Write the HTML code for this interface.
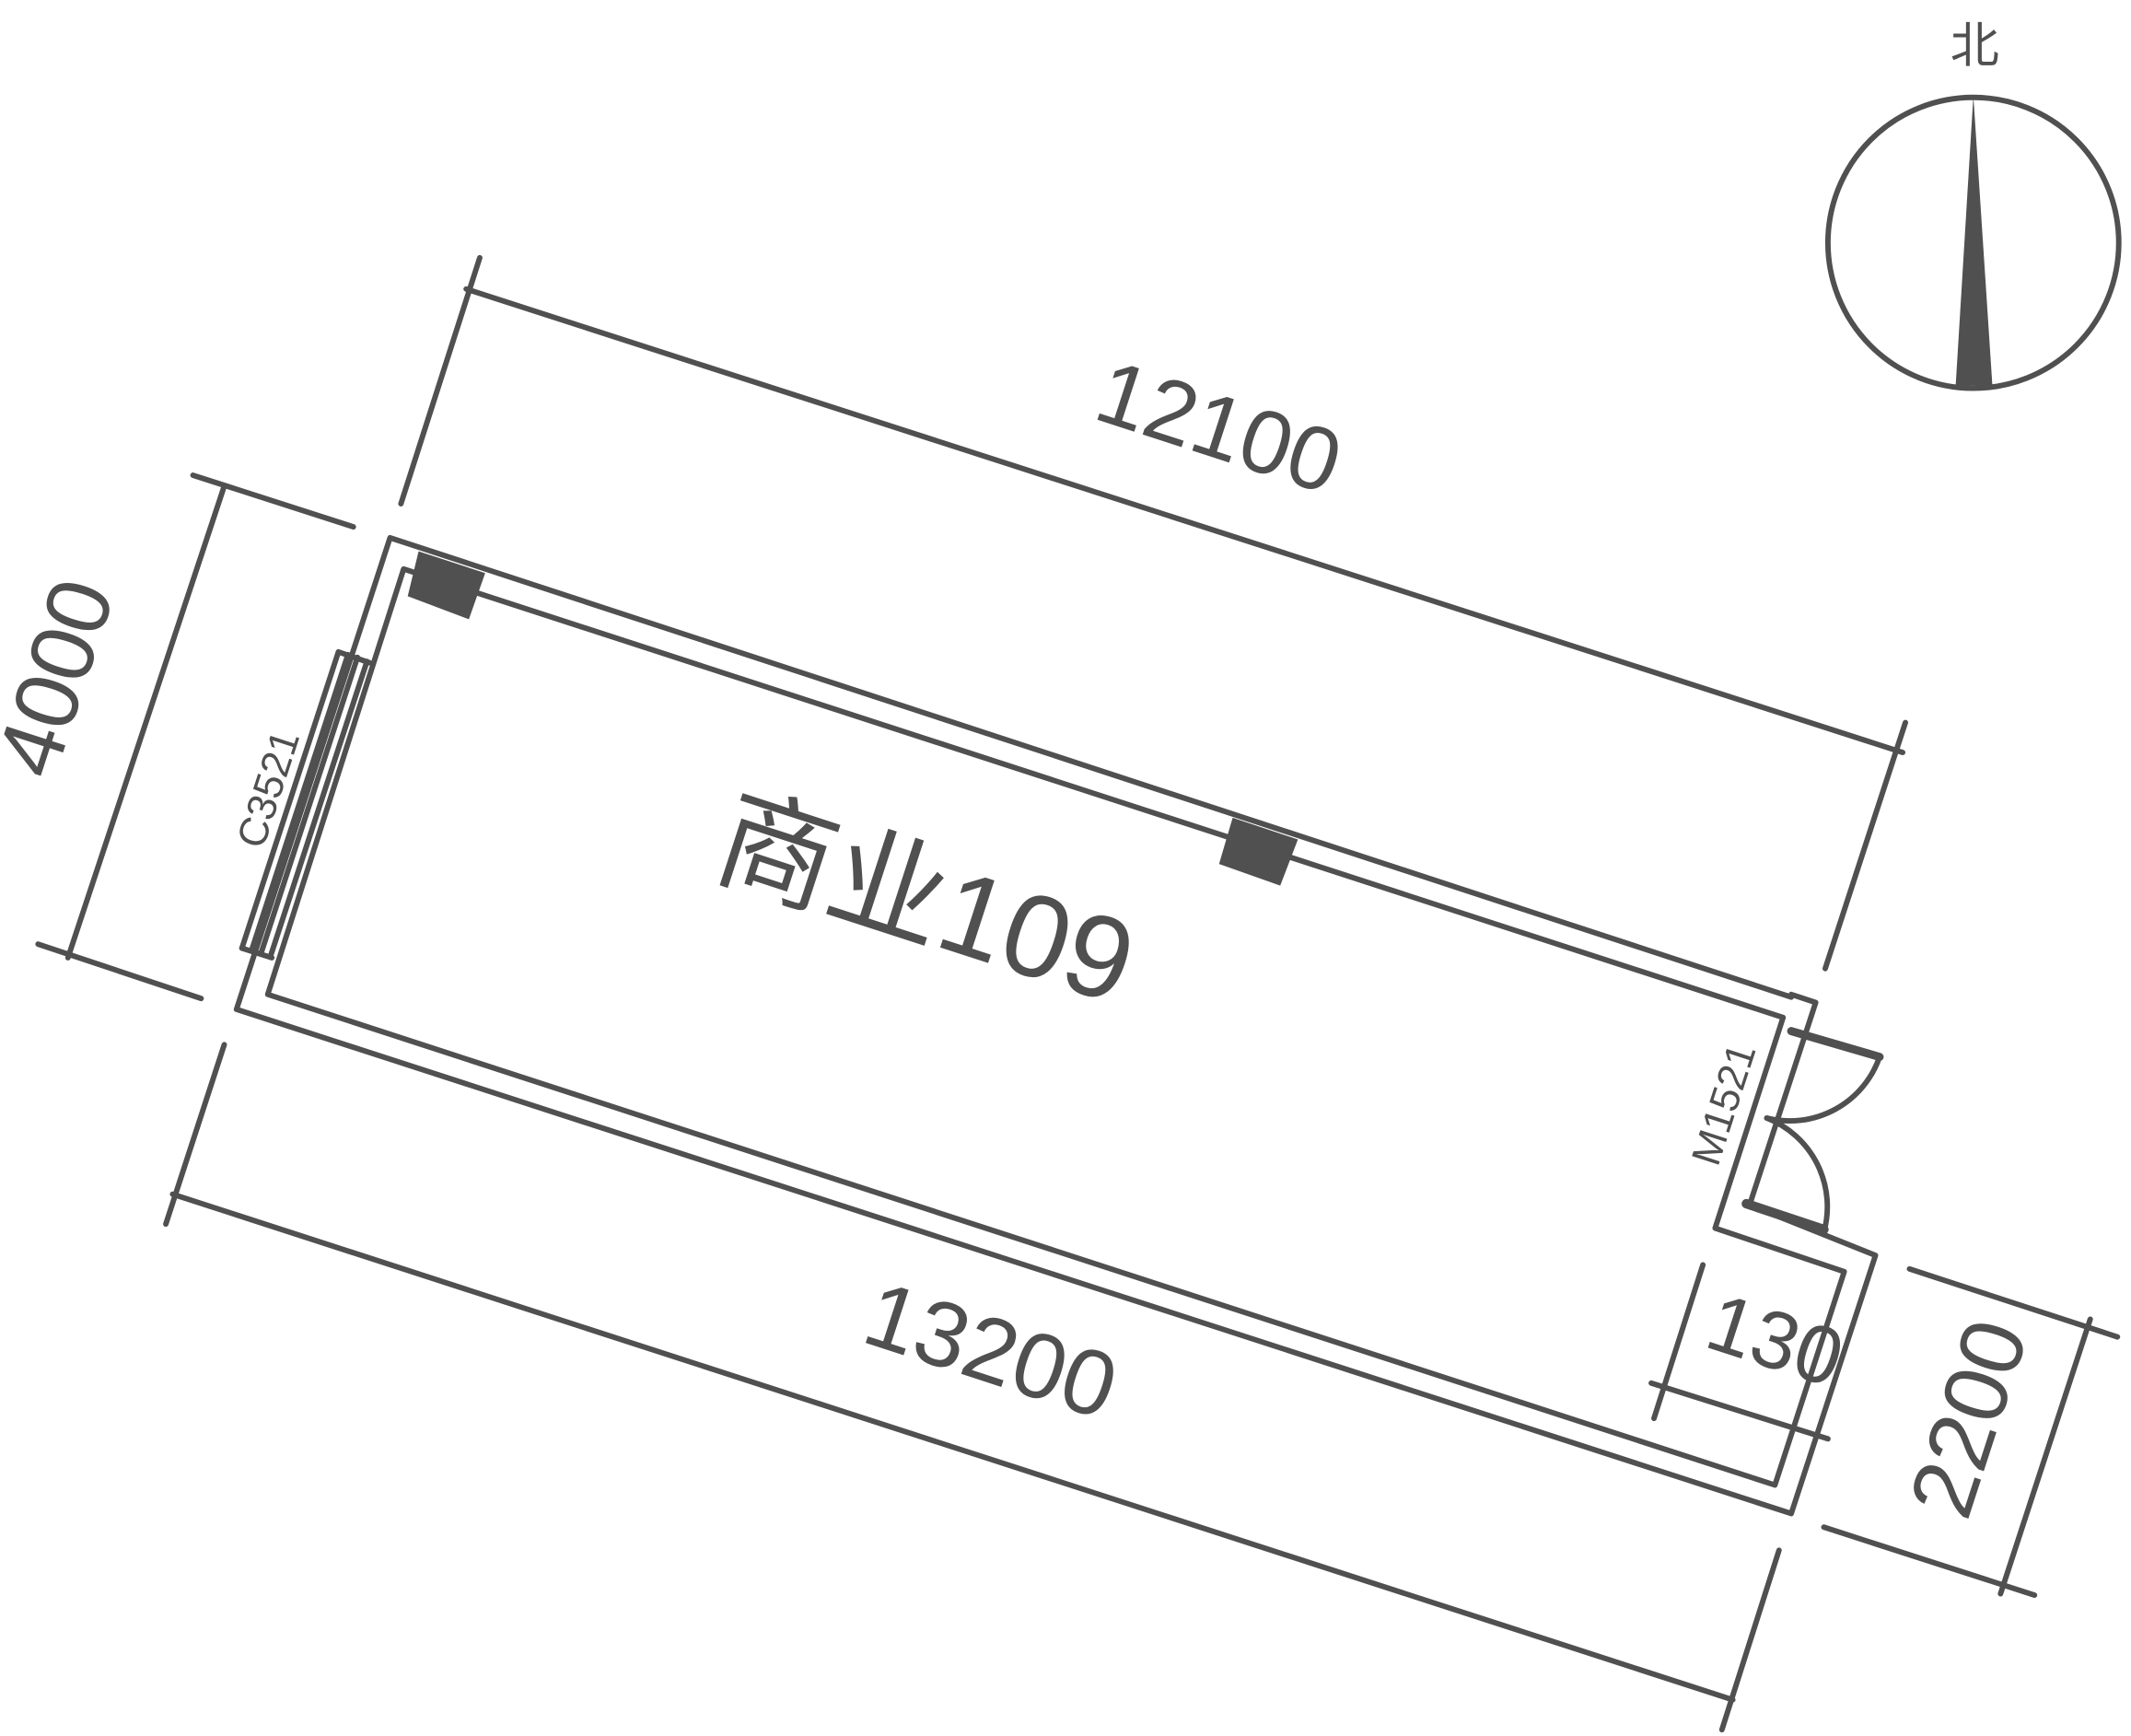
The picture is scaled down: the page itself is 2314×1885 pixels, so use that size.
<!DOCTYPE html>
<html><head><meta charset="utf-8"><style>
html,body{margin:0;padding:0;background:#fff}
svg{display:block}
text{font-family:"Liberation Sans","Noto Sans CJK SC",sans-serif;fill:#505050;font-weight:normal}
</style></head><body>
<svg width="2314" height="1885" viewBox="0 0 1568 1276" xmlns="http://www.w3.org/2000/svg">
<g stroke="#505050" stroke-width="4" fill="none" stroke-linecap="round" stroke-linejoin="round">
<line x1="295" y1="370" x2="353" y2="189"/>
<line x1="343" y1="212" x2="1400" y2="553"/>
<line x1="1343" y1="712" x2="1402" y2="531"/>
<line x1="142" y1="349" x2="260" y2="387"/>
<line x1="165" y1="357" x2="50" y2="704"/>
<line x1="28" y1="694" x2="148" y2="734"/>
<line x1="165" y1="768" x2="122" y2="900"/>
<line x1="127" y1="878" x2="1275" y2="1250"/>
<line x1="1309" y1="1140" x2="1267" y2="1272"/>
<line x1="1405" y1="933" x2="1558" y2="983"/>
<line x1="1538" y1="970" x2="1472" y2="1172"/>
<line x1="1342" y1="1123" x2="1497" y2="1173"/>
<line x1="1215" y1="1017" x2="1345" y2="1058"/>
<line x1="1253" y1="930" x2="1217" y2="1043"/>
<polyline points="1318,733 287,395 174,742 1318,1113 1380,923 1285,885"/>
<polyline points="1318,731 1336,737 1287,887"/>
<polyline points="297,418 1312,748 1262,903 1357,935 1306,1092 197,731 297,418"/>
<line x1="249" y1="479" x2="178" y2="697"/>
<line x1="256" y1="481" x2="185" y2="699"/>
<line x1="263" y1="483" x2="192" y2="701"/>
<line x1="270" y1="486" x2="199" y2="703"/>
<line x1="249" y1="479" x2="272" y2="487"/>
<line x1="178" y1="697" x2="200" y2="704"/>
<line x1="1318" y1="758" x2="1383" y2="777" stroke-width="6"/>
<path d="M1383,777 A70,70 0 0 1 1300,822"/>
<path d="M1300,822 A70,70 0 0 1 1342,906"/>
<line x1="1285" y1="885" x2="1342" y2="904" stroke-width="7"/>
<ellipse cx="1452" cy="178" rx="107" ry="107"/>
</g>
<g fill="#505050">
<polygon points="308,405 357,421 345,455 300,438"/>
<polygon points="907,601 955,617 942,651 897,635"/>
<polygon points="1452,70 1439,283 1466,283"/>
</g>
<text x="890" y="335" font-size="66" text-anchor="middle" transform="rotate(18 890 335)">12100</text>
<text x="722" y="1015" font-size="68" text-anchor="middle" transform="rotate(18 722 1015)">13200</text>
<text x="62" y="505" font-size="66" text-anchor="middle" transform="rotate(-72 62 505)">4000</text>
<text x="1470" y="1050" font-size="66" text-anchor="middle" transform="rotate(-72 1470 1050)">2200</text>
<text x="1300" y="1005" font-size="60" text-anchor="middle" transform="rotate(18 1300 1005)">130</text>
<text x="672" y="690" font-size="86" text-anchor="middle" transform="rotate(18 672 690)">商业109</text>
<text x="207" y="583" font-size="30" text-anchor="middle" transform="rotate(-72 207 583)">C3521</text>
<text x="1278" y="815" font-size="30" text-anchor="middle" transform="rotate(-72 1278 815)">M1521</text>
<text x="1453" y="45" font-size="36" text-anchor="middle">北</text>
</svg>
</body></html>
